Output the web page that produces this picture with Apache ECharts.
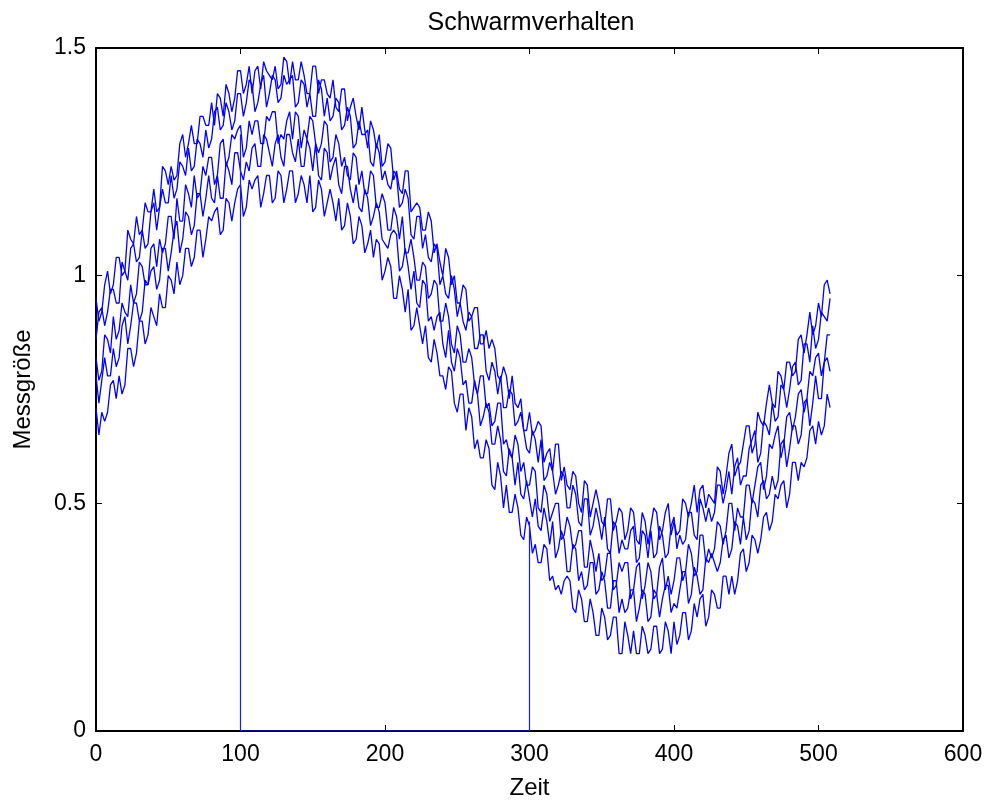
<!DOCTYPE html>
<html><head><meta charset="utf-8">
<script src="https://cdn.jsdelivr.net/npm/echarts@6/dist/echarts.min.js"></script>
<style>html,body{margin:0;padding:0;background:#fff}#c{width:992px;height:805px}</style>
</head><body><div id="c"></div>
<script>
var zeit = [
0,2,4,6,8,10,12,14,16,18,20,22,24,26,28,30,32,34,36,38,40,42,44,46,48,50,52,54,56,58,60,62,
64,66,68,70,72,74,76,78,80,82,84,86,88,90,92,94,96,98,100,102,104,106,108,110,112,114,116,118,120,122,124,126,
128,130,132,134,136,138,140,142,144,146,148,150,152,154,156,158,160,162,164,166,168,170,172,174,176,178,180,182,184,186,188,190,
192,194,196,198,200,202,204,206,208,210,212,214,216,218,220,222,224,226,228,230,232,234,236,238,240,242,244,246,248,250,252,254,
256,258,260,262,264,266,268,270,272,274,276,278,280,282,284,286,288,290,292,294,296,298,300,302,304,306,308,310,312,314,316,318,
320,322,324,326,328,330,332,334,336,338,340,342,344,346,348,350,352,354,356,358,360,362,364,366,368,370,372,374,376,378,380,382,
384,386,388,390,392,394,396,398,400,402,404,406,408,410,412,414,416,418,420,422,424,426,428,430,432,434,436,438,440,442,444,446,
448,450,452,454,456,458,460,462,464,466,468,470,472,474,476,478,480,482,484,486,488,490,492,494,496,498,500,502,504,506,508];

var kurve1 = [
0.95,0.90,0.92,0.98,1.01,0.96,0.98,1.04,1.04,1.00,1.01,1.10,1.08,1.07,1.13,1.09,1.10,1.16,1.14,1.14,1.19,1.14,1.15,1.24,1.23,1.20,1.24,1.21,1.22,1.29,1.31,1.26,
1.29,1.33,1.29,1.29,1.35,1.35,1.33,1.33,1.38,1.33,1.40,1.39,1.35,1.42,1.40,1.36,1.39,1.45,1.45,1.40,1.42,1.46,1.40,1.45,1.46,1.41,1.47,1.45,1.44,1.43,1.46,1.41,
1.42,1.48,1.47,1.42,1.47,1.43,1.43,1.47,1.44,1.40,1.40,1.46,1.46,1.40,1.43,1.43,1.40,1.39,1.43,1.37,1.36,1.41,1.41,1.34,1.37,1.39,1.35,1.32,1.37,1.32,1.28,1.34,
1.32,1.28,1.31,1.24,1.25,1.29,1.28,1.21,1.23,1.19,1.18,1.23,1.23,1.14,1.15,1.16,1.15,1.10,1.10,1.14,1.12,1.05,1.07,1.03,1.00,1.06,1.04,0.98,1.00,0.94,0.94,0.98,
0.97,0.90,0.91,0.93,0.93,0.85,0.85,0.88,0.84,0.86,0.84,0.78,0.77,0.80,0.78,0.73,0.78,0.72,0.71,0.73,0.66,0.66,0.70,0.65,0.66,0.68,0.67,0.59,0.61,0.62,0.57,0.63,
0.63,0.55,0.58,0.54,0.53,0.57,0.56,0.50,0.48,0.55,0.54,0.47,0.50,0.53,0.50,0.46,0.45,0.51,0.51,0.44,0.46,0.49,0.48,0.42,0.44,0.49,0.48,0.42,0.41,0.48,0.46,0.41,
0.45,0.49,0.48,0.42,0.44,0.48,0.50,0.43,0.46,0.43,0.44,0.51,0.50,0.47,0.50,0.54,0.48,0.53,0.54,0.49,0.52,0.51,0.50,0.58,0.57,0.52,0.56,0.61,0.63,0.56,0.58,0.59,
0.63,0.67,0.67,0.61,0.63,0.70,0.68,0.67,0.72,0.76,0.72,0.71,0.79,0.78,0.75,0.81,0.81,0.78,0.79,0.86,0.87,0.83,0.87,0.92,0.87,0.89,0.94,0.91,0.98,0.99,0.96];

var kurve2 = [
0.86,0.92,0.93,0.89,0.92,0.97,0.97,0.94,0.94,1.03,1.01,0.99,1.06,1.07,1.03,1.04,1.10,1.06,1.07,1.14,1.16,1.10,1.15,1.19,1.16,1.16,1.22,1.17,1.19,1.25,1.24,1.22,
1.28,1.23,1.24,1.30,1.29,1.26,1.32,1.28,1.30,1.36,1.37,1.32,1.33,1.38,1.36,1.32,1.34,1.40,1.40,1.35,1.38,1.43,1.42,1.36,1.38,1.42,1.44,1.37,1.40,1.44,1.43,1.38,
1.39,1.44,1.42,1.43,1.44,1.37,1.38,1.43,1.42,1.37,1.40,1.35,1.35,1.43,1.41,1.35,1.39,1.34,1.35,1.39,1.38,1.32,1.33,1.37,1.35,1.28,1.29,1.34,1.31,1.31,1.32,1.25,
1.24,1.29,1.27,1.21,1.23,1.20,1.19,1.23,1.22,1.15,1.16,1.19,1.17,1.09,1.08,1.13,1.13,1.06,1.09,1.04,1.03,1.07,1.06,0.98,1.00,0.96,0.95,1.00,0.97,0.91,0.94,0.90,
0.88,0.92,0.91,0.84,0.84,0.87,0.87,0.79,0.77,0.81,0.79,0.74,0.78,0.71,0.71,0.75,0.74,0.67,0.68,0.70,0.66,0.62,0.61,0.66,0.64,0.59,0.64,0.55,0.56,0.59,0.57,0.52,
0.54,0.57,0.56,0.49,0.49,0.54,0.52,0.46,0.45,0.51,0.51,0.43,0.45,0.49,0.46,0.42,0.47,0.40,0.39,0.46,0.45,0.39,0.42,0.40,0.40,0.44,0.45,0.37,0.38,0.44,0.43,0.38,
0.44,0.38,0.39,0.45,0.43,0.38,0.39,0.45,0.47,0.40,0.43,0.41,0.42,0.48,0.48,0.43,0.42,0.51,0.49,0.46,0.49,0.46,0.48,0.54,0.54,0.50,0.53,0.57,0.52,0.58,0.60,0.54,
0.56,0.56,0.62,0.64,0.66,0.59,0.61,0.68,0.67,0.65,0.72,0.68,0.69,0.76,0.75,0.71,0.75,0.80,0.81,0.76,0.77,0.85,0.85,0.81,0.89,0.84,0.86,0.92,0.91,0.90,0.95];

var kurve3 = [
0.82,0.77,0.79,0.87,0.86,0.83,0.91,0.86,0.88,0.94,0.92,0.91,0.98,0.94,0.96,1.03,1.02,0.98,0.98,1.06,1.07,1.02,1.08,1.05,1.07,1.13,1.13,1.08,1.17,1.12,1.12,1.20,
1.18,1.15,1.22,1.17,1.18,1.24,1.22,1.26,1.26,1.20,1.22,1.29,1.30,1.24,1.26,1.31,1.30,1.32,1.33,1.26,1.28,1.34,1.31,1.34,1.34,1.29,1.29,1.35,1.34,1.36,1.36,1.29,
1.31,1.30,1.34,1.36,1.30,1.36,1.35,1.28,1.32,1.30,1.35,1.34,1.29,1.27,1.29,1.34,1.33,1.25,1.26,1.31,1.29,1.24,1.26,1.22,1.21,1.27,1.26,1.20,1.23,1.18,1.18,1.23,
1.22,1.15,1.15,1.18,1.16,1.10,1.10,1.15,1.13,1.08,1.13,1.05,1.05,1.08,1.04,0.99,0.99,1.03,1.02,0.95,0.96,0.99,0.98,0.90,0.90,0.94,0.91,0.85,0.83,0.89,0.87,0.81,
0.81,0.84,0.82,0.76,0.74,0.78,0.78,0.71,0.72,0.67,0.68,0.72,0.72,0.63,0.64,0.61,0.60,0.65,0.63,0.57,0.59,0.54,0.54,0.58,0.57,0.49,0.48,0.54,0.52,0.46,0.48,0.50,
0.50,0.42,0.43,0.47,0.45,0.40,0.41,0.44,0.44,0.36,0.36,0.42,0.39,0.35,0.39,0.33,0.34,0.39,0.39,0.31,0.32,0.37,0.35,0.37,0.37,0.29,0.31,0.36,0.37,0.29,0.32,0.37,
0.35,0.29,0.30,0.36,0.38,0.31,0.34,0.30,0.33,0.38,0.38,0.33,0.35,0.41,0.39,0.34,0.35,0.43,0.43,0.37,0.40,0.38,0.40,0.46,0.45,0.41,0.44,0.50,0.50,0.44,0.49,0.47,
0.47,0.54,0.54,0.50,0.54,0.58,0.59,0.53,0.56,0.63,0.62,0.65,0.67,0.60,0.63,0.69,0.70,0.66,0.69,0.74,0.75,0.70,0.73,0.79,0.78,0.82,0.83,0.78,0.81,0.87,0.87];

var kurve4 = [
0.78,0.72,0.77,0.82,0.78,0.78,0.84,0.80,0.82,0.89,0.91,0.85,0.89,0.94,0.94,0.90,0.92,0.99,0.98,1.01,1.02,0.97,0.99,1.06,1.06,1.01,1.05,1.10,1.12,1.05,1.08,1.14,
1.13,1.09,1.11,1.18,1.18,1.13,1.17,1.22,1.17,1.16,1.22,1.17,1.17,1.25,1.23,1.20,1.27,1.27,1.23,1.21,1.25,1.23,1.28,1.29,1.24,1.24,1.31,1.30,1.27,1.24,1.29,1.31,
1.26,1.24,1.31,1.31,1.27,1.25,1.30,1.24,1.24,1.30,1.28,1.23,1.29,1.22,1.21,1.28,1.27,1.21,1.24,1.26,1.20,1.18,1.24,1.24,1.19,1.16,1.20,1.15,1.14,1.19,1.17,1.11,
1.13,1.16,1.14,1.08,1.07,1.06,1.09,1.10,1.09,1.01,1.02,1.06,1.02,0.97,1.01,0.94,0.93,0.99,0.98,0.90,0.91,0.88,0.91,0.92,0.85,0.82,0.88,0.81,0.79,0.84,0.82,0.76,
0.77,0.72,0.72,0.77,0.74,0.67,0.69,0.72,0.70,0.63,0.63,0.67,0.64,0.57,0.56,0.62,0.60,0.54,0.59,0.52,0.51,0.55,0.51,0.47,0.51,0.45,0.44,0.49,0.46,0.41,0.46,0.38,
0.40,0.44,0.42,0.35,0.35,0.41,0.40,0.33,0.35,0.31,0.32,0.37,0.37,0.30,0.31,0.35,0.33,0.27,0.27,0.33,0.33,0.26,0.29,0.26,0.27,0.31,0.31,0.24,0.27,0.31,0.30,0.24,
0.25,0.31,0.30,0.25,0.29,0.32,0.32,0.26,0.28,0.27,0.31,0.35,0.35,0.28,0.30,0.36,0.34,0.30,0.31,0.38,0.37,0.39,0.37,0.35,0.37,0.42,0.43,0.38,0.40,0.46,0.45,0.41,
0.47,0.42,0.44,0.51,0.50,0.47,0.54,0.55,0.51,0.52,0.56,0.53,0.55,0.63,0.64,0.58,0.62,0.67,0.67,0.63,0.65,0.72,0.73,0.67,0.72,0.78,0.73,0.73,0.81,0.82,0.79];

var kurve5 = [
0.71,0.65,0.70,0.68,0.70,0.76,0.77,0.73,0.78,0.74,0.76,0.84,0.84,0.80,0.83,0.90,0.90,0.85,0.87,0.93,0.91,0.89,0.96,0.93,0.93,1.00,0.99,0.96,1.03,0.98,1.00,1.06,
1.06,1.02,1.04,1.10,1.10,1.04,1.08,1.13,1.12,1.14,1.15,1.09,1.10,1.17,1.16,1.12,1.16,1.19,1.20,1.13,1.15,1.21,1.19,1.21,1.22,1.15,1.18,1.22,1.22,1.16,1.17,1.23,
1.22,1.16,1.19,1.23,1.23,1.16,1.18,1.22,1.20,1.16,1.22,1.14,1.15,1.21,1.19,1.13,1.16,1.19,1.16,1.12,1.17,1.10,1.11,1.16,1.13,1.07,1.08,1.13,1.11,1.05,1.07,1.10,
1.04,1.08,1.07,0.99,1.01,1.04,1.02,0.95,0.95,1.00,0.97,0.92,0.97,0.88,0.89,0.93,0.89,0.85,0.89,0.82,0.81,0.86,0.83,0.78,0.78,0.75,0.80,0.79,0.72,0.70,0.74,0.74,
0.66,0.71,0.69,0.62,0.64,0.60,0.60,0.64,0.62,0.54,0.53,0.59,0.56,0.49,0.54,0.48,0.48,0.52,0.49,0.43,0.42,0.47,0.45,0.39,0.41,0.37,0.37,0.41,0.40,0.33,0.34,0.31,
0.32,0.30,0.33,0.34,0.33,0.27,0.26,0.31,0.29,0.24,0.24,0.29,0.26,0.21,0.21,0.27,0.25,0.20,0.21,0.25,0.25,0.17,0.17,0.24,0.21,0.17,0.22,0.17,0.17,0.23,0.21,0.17,
0.18,0.23,0.23,0.17,0.18,0.24,0.22,0.17,0.24,0.19,0.21,0.26,0.26,0.20,0.22,0.28,0.25,0.29,0.30,0.23,0.25,0.31,0.30,0.27,0.27,0.34,0.34,0.30,0.34,0.30,0.33,0.39,
0.40,0.35,0.37,0.43,0.42,0.39,0.42,0.47,0.48,0.44,0.46,0.52,0.51,0.54,0.55,0.49,0.52,0.59,0.59,0.55,0.59,0.58,0.60,0.66,0.67,0.63,0.68,0.65,0.67,0.74,0.71];

// rectangular pulse (Zeit, Messgröße)
var pulsZeit = [100, 100, 300, 300];
var pulsWert = [1.31, 0, 0, 0.46];

var xTicks = [0,100,200,300,400,500,600];
var yTicks = [0,0.5,1,1.5];

var FONT = 'Liberation Sans, Arial, Helvetica, sans-serif';
var chart = echarts.init(document.getElementById('c'), null, {renderer:'canvas'});

function pairs(xs, ys){ return xs.map(function(x,i){ return [x, ys[i]]; }); }

var blue = '#0000ff';
var curves = [kurve1,kurve2,kurve3,kurve4,kurve5];
var series = curves.map(function(k){
  return {type:'line', data:pairs(zeit,k), showSymbol:false, symbol:'none',
    lineStyle:{color:blue, width:1.3}, itemStyle:{color:blue}, animation:false, z:3};
});
series.push({type:'line', data:pairs(pulsZeit,pulsWert), showSymbol:false, symbol:'none',
  lineStyle:{color:'#1a1aff', width:1.2}, itemStyle:{color:blue}, animation:false, z:3});

function axisCommon(){
  return {
    axisLine:{show:true, onZero:false, lineStyle:{color:'#000', width:2}},
    axisTick:{show:true, inside:true, length:6, lineStyle:{color:'#000', width:1}},
    splitLine:{show:false}
  };
}
var xb = Object.assign(axisCommon(), {type:'value', min:0, max:600, interval:100, position:'bottom',
  axisLabel:{color:'#000', fontSize:23, fontFamily:FONT, margin:12},
  name:'Zeit', nameLocation:'middle', nameGap:45,
  nameTextStyle:{color:'#000', fontSize:24, fontFamily:FONT}});
var xt = Object.assign(axisCommon(), {type:'value', min:0, max:600, interval:100, position:'top',
  axisLabel:{show:false}});
var yl = Object.assign(axisCommon(), {type:'value', min:0, max:1.5, interval:0.5, position:'left',
  axisLabel:{color:'#000', fontSize:23, fontFamily:FONT, margin:10},
  name:'Messgröße', nameLocation:'middle', nameGap:61, nameRotate:90,
  nameTextStyle:{color:'#000', fontSize:24, fontFamily:FONT}});
var yr = Object.assign(axisCommon(), {type:'value', min:0, max:1.5, interval:0.5, position:'right',
  axisLabel:{show:false}});

chart.setOption({
  animation:false,
  backgroundColor:'#fff',
  title:{text:'Schwarmverhalten', left:526, textAlign:'center', top:6,
    textStyle:{color:'#000', fontSize:25, fontWeight:'normal', fontFamily:FONT}},
  grid:{left:96, right:29, top:48, bottom:72, containLabel:false},
  xAxis:[xb, xt],
  yAxis:[yl, yr],
  series:series
});
</script>
</body></html>
